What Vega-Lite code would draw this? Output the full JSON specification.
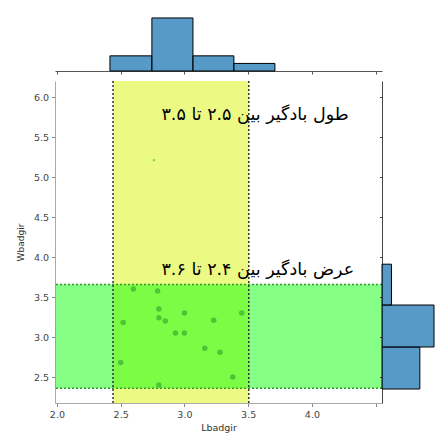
{
  "$schema": "https://vega.github.io/schema/vega-lite/v6.json",
  "padding": {"left": 16, "top": 10, "right": 0, "bottom": 2},
  "background": "white",
  "config": {"view": {"stroke": null}, "font": "DejaVu Sans"},
  "datasets": {
    "points": [
      {"Lbadgir": 2.60, "Wbadgir": 3.60},
      {"Lbadgir": 2.79, "Wbadgir": 3.575},
      {"Lbadgir": 2.80, "Wbadgir": 3.35},
      {"Lbadgir": 3.00, "Wbadgir": 3.30},
      {"Lbadgir": 3.45, "Wbadgir": 3.30},
      {"Lbadgir": 2.52, "Wbadgir": 3.18},
      {"Lbadgir": 2.80, "Wbadgir": 3.24},
      {"Lbadgir": 2.85, "Wbadgir": 3.20},
      {"Lbadgir": 3.23, "Wbadgir": 3.21},
      {"Lbadgir": 2.93, "Wbadgir": 3.05},
      {"Lbadgir": 3.00, "Wbadgir": 3.05},
      {"Lbadgir": 3.16, "Wbadgir": 2.86},
      {"Lbadgir": 3.28, "Wbadgir": 2.81},
      {"Lbadgir": 2.50, "Wbadgir": 2.68},
      {"Lbadgir": 3.38, "Wbadgir": 2.50},
      {"Lbadgir": 2.80, "Wbadgir": 2.40}
    ],
    "stray": [{"Lbadgir": 2.76, "Wbadgir": 5.21}],
    "xband": [{"x1": 2.44, "x2": 3.505}],
    "yband": [{"y1": 2.36, "y2": 3.655}],
    "notes": [
      {"x": 2.82, "y": 5.78, "label": "طول بادگیر بین ۲.۵ تا ۳.۵"},
      {"x": 2.82, "y": 3.84, "label": "عرض بادگیر بین ۲.۴ تا ۳.۶"}
    ],
    "tophist": [
      {"bin_start": 2.416, "bin_end": 2.745, "count": 4},
      {"bin_start": 2.745, "bin_end": 3.067, "count": 14},
      {"bin_start": 3.067, "bin_end": 3.388, "count": 4},
      {"bin_start": 3.388, "bin_end": 3.71, "count": 2}
    ],
    "righthist": [
      {"bin_start": 2.35, "bin_end": 2.875, "count": 8},
      {"bin_start": 2.875, "bin_end": 3.40, "count": 11},
      {"bin_start": 3.40, "bin_end": 3.91, "count": 2}
    ]
  },
  "spacing": 10,
  "bounds": "flush",
  "resolve": {"scale": {"x": "independent", "y": "independent"}},
  "vconcat": [
    {
      "width": 327,
      "height": 61,
      "data": {"name": "tophist"},
      "mark": {"type": "rect", "fill": "#1f77b4", "fillOpacity": 0.75, "stroke": "black", "strokeWidth": 1},
      "encoding": {
        "x": {"field": "bin_start", "type": "quantitative", "scale": {"domain": [1.985, 4.55], "nice": false, "zero": false},
              "axis": {"values": [2, 2.5, 3, 3.5, 4, 4.5], "labels": false, "title": null, "grid": false, "domainColor": "#555", "tickColor": "#555", "tickSize": 3}},
        "x2": {"field": "bin_end"},
        "y": {"field": "count", "type": "quantitative", "scale": {"domain": [0, 16.1], "nice": false}, "axis": null},
        "y2": {"datum": 0}
      }
    },
    {
      "spacing": 0,
      "bounds": "flush",
      "resolve": {"scale": {"x": "independent", "y": "independent"}},
      "hconcat": [
        {
          "width": 327,
          "height": 322,
          "layer": [
            {
              "data": {"name": "xband"},
              "mark": {"type": "rect", "fill": "#ecfa84"},
              "encoding": {
                "x": {"field": "x1", "type": "quantitative"},
                "x2": {"field": "x2"},
                "y": {"datum": 2.175, "type": "quantitative"},
                "y2": {"datum": 6.2}
              }
            },
            {
              "data": {"name": "yband"},
              "mark": {"type": "rect", "fill": "#00ff00", "opacity": 0.47},
              "encoding": {
                "y": {"field": "y1", "type": "quantitative"},
                "y2": {"field": "y2"},
                "x": {"datum": 1.985, "type": "quantitative"},
                "x2": {"datum": 4.55}
              }
            },
            {
              "data": {"name": "xband"},
              "mark": {"type": "rule", "color": "#333", "strokeDash": [2, 2], "strokeWidth": 1.5},
              "encoding": {"x": {"field": "x1", "type": "quantitative"}}
            },
            {
              "data": {"name": "xband"},
              "mark": {"type": "rule", "color": "#333", "strokeDash": [2, 2], "strokeWidth": 1.5},
              "encoding": {"x": {"field": "x2", "type": "quantitative"}}
            },
            {
              "data": {"name": "yband"},
              "mark": {"type": "rule", "color": "#2a9d2a", "strokeDash": [2, 2], "strokeWidth": 1.5},
              "encoding": {"y": {"field": "y1", "type": "quantitative"}}
            },
            {
              "data": {"name": "yband"},
              "mark": {"type": "rule", "color": "#2a9d2a", "strokeDash": [2, 2], "strokeWidth": 1.5},
              "encoding": {"y": {"field": "y2", "type": "quantitative"}}
            },
            {
              "data": {"name": "points"},
              "mark": {"type": "circle", "size": 30, "color": "#2ca02c", "opacity": 0.6},
              "encoding": {
                "x": {"field": "Lbadgir", "type": "quantitative"},
                "y": {"field": "Wbadgir", "type": "quantitative"}
              }
            },
            {
              "data": {"name": "stray"},
              "mark": {"type": "square", "size": 4, "color": "#66dd22", "opacity": 1},
              "encoding": {
                "x": {"field": "Lbadgir", "type": "quantitative"},
                "y": {"field": "Wbadgir", "type": "quantitative"}
              }
            },
            {
              "data": {"name": "notes"},
              "mark": {"type": "text", "align": "left", "baseline": "middle", "fontSize": 17.5, "color": "black", "font": "DejaVu Sans"},
              "encoding": {
                "x": {"field": "x", "type": "quantitative"},
                "y": {"field": "y", "type": "quantitative"},
                "text": {"field": "label"}
              }
            }
          ],
          "encoding": {
            "x": {"type": "quantitative", "scale": {"domain": [1.985, 4.55], "nice": false, "zero": false},
                  "axis": {"title": "Lbadgir", "values": [2, 2.5, 3, 3.5, 4, 4.5], "labelExpr": "datum.value >= 4.5 ? '' : format(datum.value, '.1f')", "grid": false,
                           "domainColor": "#aaa", "tickColor": "#888", "tickSize": 3.5, "labelFontSize": 9.5, "labelColor": "#444", "labelPadding": 3,
                           "titleFontSize": 9.5, "titleFontWeight": "normal", "titleColor": "#333", "titlePadding": 3}},
            "y": {"type": "quantitative", "scale": {"domain": [2.175, 6.2], "nice": false, "zero": false},
                  "axis": {"title": "Wbadgir", "values": [2.5, 3, 3.5, 4, 4.5, 5, 5.5, 6], "format": ".1f", "grid": false,
                           "domainColor": "#aaa", "tickColor": "#888", "tickSize": 3.5, "labelFontSize": 9.5, "labelColor": "#444", "labelPadding": 3,
                           "titleFontSize": 9, "titleFontWeight": "normal", "titleColor": "#333", "titlePadding": 8}}
          }
        },
        {
          "width": 54,
          "height": 322,
          "data": {"name": "righthist"},
          "mark": {"type": "rect", "fill": "#1f77b4", "fillOpacity": 0.75, "stroke": "black", "strokeWidth": 1},
          "encoding": {
            "y": {"field": "bin_start", "type": "quantitative", "scale": {"domain": [2.175, 6.2], "nice": false, "zero": false},
                  "axis": {"values": [2.5, 3, 3.5, 4, 4.5, 5, 5.5, 6], "labels": false, "title": null, "grid": false, "domainColor": "#444", "tickColor": "#444", "tickSize": 2.5}},
            "y2": {"field": "bin_end"},
            "x": {"field": "count", "type": "quantitative", "scale": {"domain": [0, 11.42], "nice": false}, "axis": null},
            "x2": {"datum": 0}
          }
        }
      ]
    }
  ]
}
